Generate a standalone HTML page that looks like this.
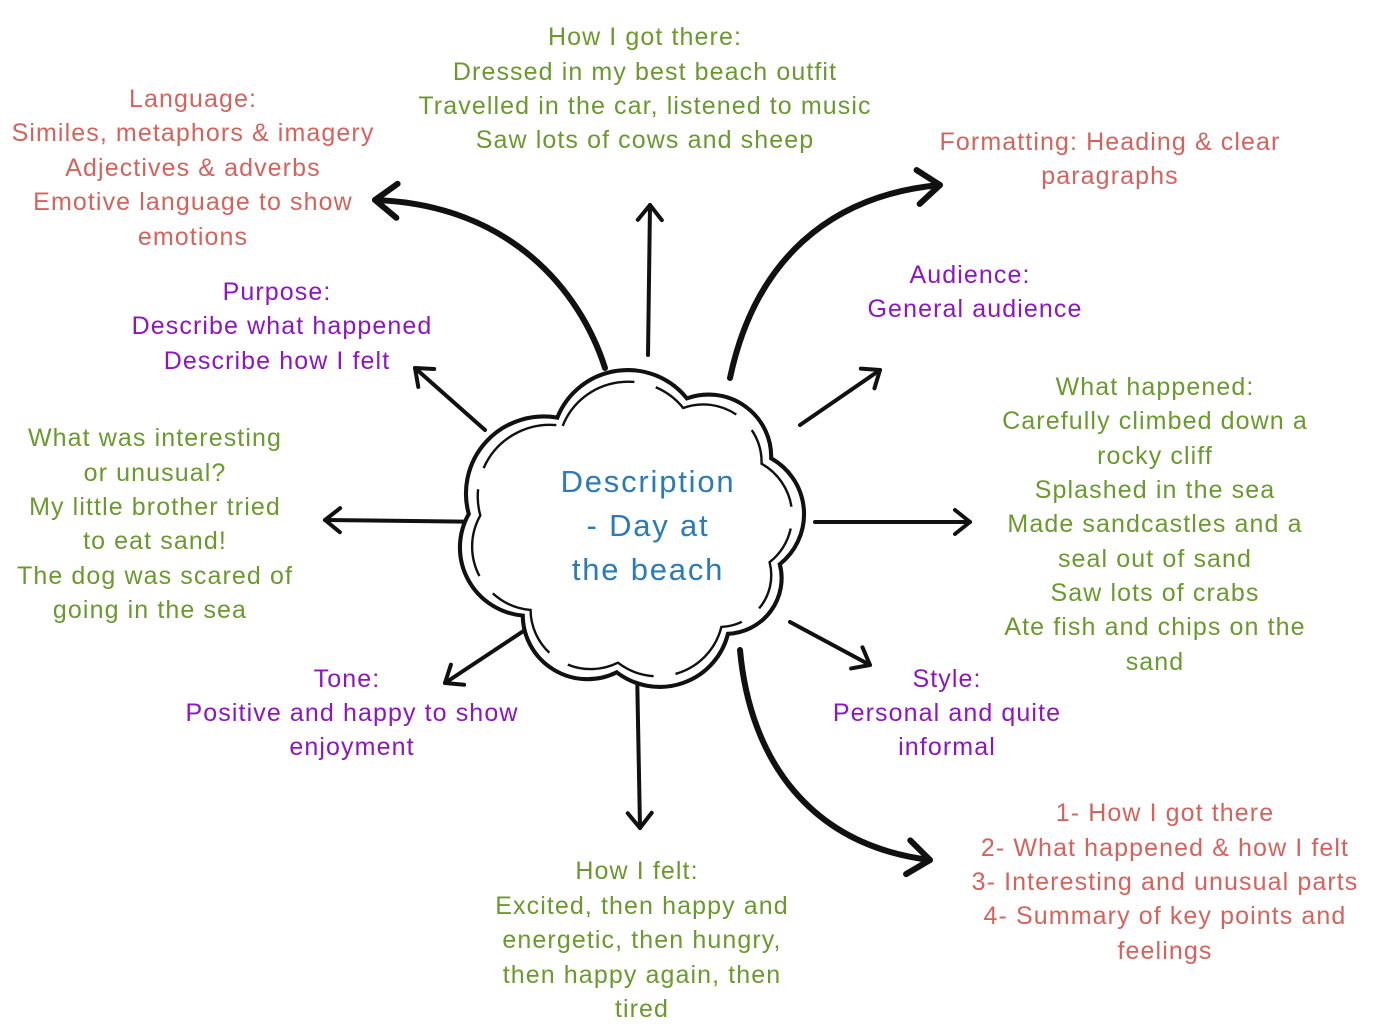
<!DOCTYPE html>
<html><head><meta charset="utf-8"><style>
html,body{margin:0;padding:0;background:#fff}
svg{display:block}
text{font-family:"Liberation Sans",sans-serif;font-size:25px;letter-spacing:1.1px;text-anchor:middle}
.r{fill:#d8625b}.g{fill:#6a9a2c}.p{fill:#8e14c8}.b{fill:#2a7bbb;font-size:31px;letter-spacing:1.8px}
</style></head><body>
<svg width="1376" height="1034" viewBox="0 0 1376 1034" xmlns="http://www.w3.org/2000/svg">
<defs>
<marker id="m" markerUnits="userSpaceOnUse" viewBox="-20 -16 24 32" markerWidth="24" markerHeight="32" refX="0" refY="0" orient="auto">
<path d="M-15,-12 L0,0 L-15,12" fill="none" stroke="#111" stroke-width="4" stroke-linecap="round" stroke-linejoin="round"/>
</marker>
<marker id="M" markerUnits="userSpaceOnUse" viewBox="-30 -22 34 44" markerWidth="34" markerHeight="44" refX="0" refY="0" orient="auto">
<path d="M-22,-17 L0,0 L-22,17" fill="none" stroke="#111" stroke-width="6" stroke-linecap="round" stroke-linejoin="round"/>
</marker>
</defs>
<g fill="none" stroke="#111" stroke-linecap="round">
<path d="M605,368 C580,290 510,205 375,200" stroke-width="6" marker-end="url(#M)"/>
<path d="M730,378 C755,260 830,195 940,185" stroke-width="6" marker-end="url(#M)"/>
<path d="M740,650 C750,760 810,845 930,860" stroke-width="6" marker-end="url(#M)"/>
<path d="M648,355 L650,205" stroke-width="4" marker-end="url(#m)"/>
<path d="M800,425 L880,370" stroke-width="4" marker-end="url(#m)"/>
<path d="M485,430 L415,368" stroke-width="4" marker-end="url(#m)"/>
<path d="M495,522 L325,520" stroke-width="4" marker-end="url(#m)"/>
<path d="M815,522 L970,522" stroke-width="4" marker-end="url(#m)"/>
<path d="M790,622 L870,665" stroke-width="4" marker-end="url(#m)"/>
<path d="M525,630 L445,683" stroke-width="4" marker-end="url(#m)"/>
<path d="M637,668 L640,828" stroke-width="4" marker-end="url(#m)"/>
</g>
<g transform="translate(634,530) scale(1.08,1.07) translate(-648,-535)">
<path d="M577,430 A70,70 0 0 1 697,412 A58,58 0 0 1 775,468 A60,60 0 0 1 783,567 A52,52 0 0 1 735,632 A65,65 0 0 1 632,668 A60,60 0 0 1 545,615 A64,64 0 0 1 495,520 A72,72 0 0 1 577,430 Z" fill="#fff" stroke="#111" stroke-width="3.8"/>
<path transform="translate(648,540) scale(0.93) translate(-648,-540)" d="M577,430 A70,70 0 0 1 697,412 A58,58 0 0 1 775,468 A60,60 0 0 1 783,567 A52,52 0 0 1 735,632 A65,65 0 0 1 632,668 A60,60 0 0 1 545,615 A64,64 0 0 1 495,520 A72,72 0 0 1 577,430 Z" fill="none" stroke="#111" stroke-width="2.4" stroke-dasharray="90 22"/>
</g>
<text class="b" x="648" y="492">Description</text>
<text class="b" x="648" y="536">- Day at</text>
<text class="b" x="648" y="580">the beach</text>
<g class="g"><text x="645" y="45">How I got there:</text><text x="645" y="80">Dressed in my best beach outfit</text><text x="645" y="114">Travelled in the car, listened to music</text><text x="645" y="148">Saw lots of cows and sheep</text></g>
<g class="r"><text x="193" y="107">Language:</text><text x="193" y="141">Similes, metaphors &amp; imagery</text><text x="193" y="176">Adjectives &amp; adverbs</text><text x="193" y="210">Emotive language to show</text><text x="193" y="245">emotions</text></g>
<g class="r"><text x="1110" y="150">Formatting: Heading &amp; clear</text><text x="1110" y="184">paragraphs</text></g>
<g class="p"><text x="970" y="283">Audience:</text><text x="975" y="317">General audience</text></g>
<g class="p"><text x="277" y="300">Purpose:</text><text x="282" y="334">Describe what happened</text><text x="277" y="369">Describe how I felt</text></g>
<g class="g"><text x="1155" y="395">What happened:</text><text x="1155" y="429">Carefully climbed down a</text><text x="1155" y="464">rocky cliff</text><text x="1155" y="498">Splashed in the sea</text><text x="1155" y="532">Made sandcastles and a</text><text x="1155" y="567">seal out of sand</text><text x="1155" y="601">Saw lots of crabs</text><text x="1155" y="635">Ate fish and chips on the</text><text x="1155" y="670">sand</text></g>
<g class="g"><text x="155" y="446">What was interesting</text><text x="155" y="481">or unusual?</text><text x="155" y="515">My little brother tried</text><text x="155" y="549">to eat sand!</text><text x="155" y="584">The dog was scared of</text><text x="150" y="618">going in the sea</text></g>
<g class="p"><text x="347" y="687">Tone:</text><text x="352" y="721">Positive and happy to show</text><text x="352" y="755">enjoyment</text></g>
<g class="p"><text x="947" y="687">Style:</text><text x="947" y="721">Personal and quite</text><text x="947" y="755">informal</text></g>
<g class="g"><text x="637" y="879">How I felt:</text><text x="642" y="914">Excited, then happy and</text><text x="642" y="948">energetic, then hungry,</text><text x="642" y="983">then happy again, then</text><text x="642" y="1017">tired</text></g>
<g class="r"><text x="1165" y="821">1- How I got there</text><text x="1165" y="856">2- What happened &amp; how I felt</text><text x="1165" y="890">3- Interesting and unusual parts</text><text x="1165" y="924">4- Summary of key points and</text><text x="1165" y="959">feelings</text></g>
</svg>
</body></html>
